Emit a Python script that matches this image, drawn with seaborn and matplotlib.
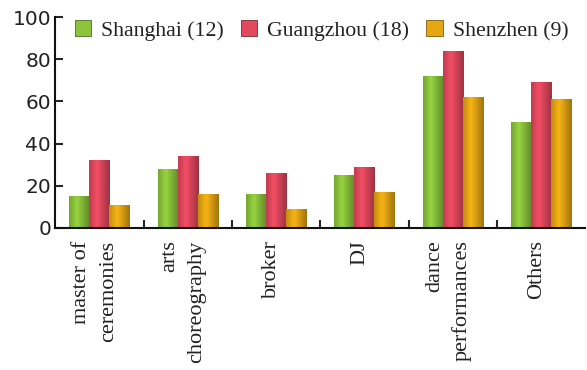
import numpy as np
import pandas as pd
import matplotlib
matplotlib.use("Agg")
import matplotlib.pyplot as plt
import matplotlib.colors as mcolors
import seaborn as sns

# Share of respondents (%) in each occupation, by city
roles = ["master of\nceremonies", "arts\nchoreography", "broker", "DJ",
         "dance\nperformances", "Others"]
cities = ["Shanghai (12)", "Guangzhou (18)", "Shenzhen (9)"]
shanghai = [15, 28, 16, 25, 72, 50]
guangzhou = [32, 34, 26, 29, 84, 69]
shenzhen = [11, 16, 9, 17, 62, 61]
yticks = [0, 20, 40, 60, 80, 100]
city_colors = ["#8cc43c", "#e2485e", "#e6a714"]

df = pd.DataFrame({
    "role": roles * 3,
    "city": [c for c in cities for _ in roles],
    "pct": shanghai + guangzhou + shenzhen,
})

sns.set_style("ticks")
plt.rcParams["font.family"] = ["Liberation Serif", "DejaVu Serif"]

fig = plt.figure(figsize=(5.87, 3.70), dpi=100)
ax = fig.add_axes([0.094, 0.384, 0.903, 0.570])

sns.barplot(data=df, x="role", y="pct", hue="city", palette=city_colors,
            width=0.68, ax=ax, legend=True, saturation=1)

# Cylinder-like shading across each bar
for patch, base in zip(ax.patches, np.repeat(city_colors, len(roles))):
    x0, y0 = patch.get_x(), patch.get_y()
    w, h = patch.get_width(), patch.get_height()
    if h <= 0:
        continue
    rgb = np.array(mcolors.to_rgb(base))
    t = np.linspace(0, 1, 40)
    shade = 1.08 - 0.38 * np.abs(t - 0.38) / 0.62
    img = np.clip(rgb[None, :] * shade[:, None], 0, 1)[None, :, :]
    im = ax.imshow(img, extent=[x0, x0 + w, y0, y0 + h], aspect="auto",
                   zorder=patch.get_zorder() + 0.1, interpolation="bilinear")
    im.set_clip_path(patch)
    patch.set_edgecolor(tuple(rgb * 0.55))
    patch.set_linewidth(0.6)

ax.set_xlim(-0.5, len(roles) - 0.5)
ax.set_ylim(0, 100)
ax.set_yticks(yticks)
ax.set_yticklabels([str(v) for v in yticks], family="DejaVu Sans",
                   fontsize=14.5, color="#222222")
ax.tick_params(axis="y", direction="in", length=6, width=1.5, pad=3)

# Category boundaries as inward minor ticks; labels as rotated text
ax.set_xticks(np.arange(len(roles) - 1) + 0.5, minor=True)
ax.tick_params(axis="x", which="minor", direction="in", length=6, width=1.5)
label_pos = np.arange(len(roles)) - 0.05
ax.set_xticks(label_pos)
ax.set_xticklabels(roles, rotation=90, fontsize=16, va="top", ha="center",
                   multialignment="right", linespacing=1.55, color="#222222")
ax.tick_params(axis="x", which="major", length=0, pad=9)

ax.set_xlabel("")
ax.set_ylabel("")
for side in ("top", "right"):
    ax.spines[side].set_visible(False)
for side in ("left", "bottom"):
    ax.spines[side].set_linewidth(1.5)
    ax.spines[side].set_color("#111111")

leg = ax.legend(loc="upper left", bbox_to_anchor=(0.02, 1.025), ncol=3,
                frameon=False, fontsize=15.7, handlelength=0.75,
                handleheight=0.75, handletextpad=0.45, columnspacing=0.8,
                borderaxespad=0)
for text in leg.get_texts():
    text.set_color("#222222")
for h in leg.legend_handles:
    fc = mcolors.to_rgb(h.get_facecolor())
    h.set_edgecolor(tuple(np.array(fc) * 0.55))
    h.set_linewidth(0.6)

fig.savefig("out.png", dpi=100, facecolor="white")
